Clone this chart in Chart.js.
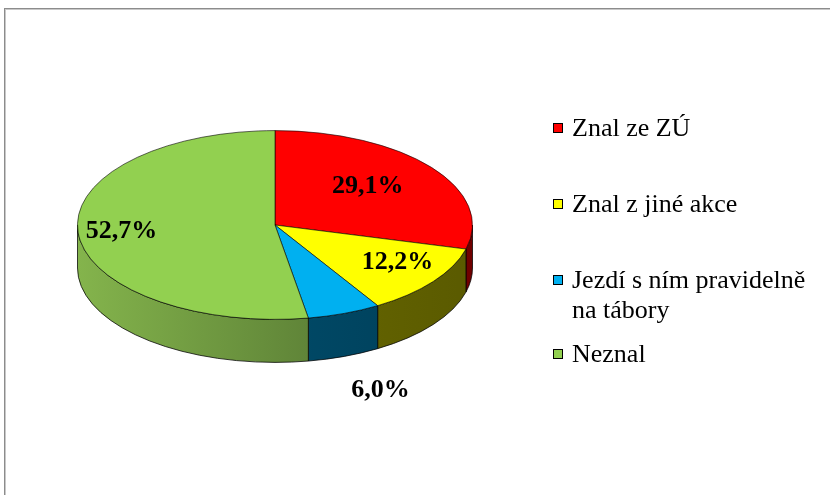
<!DOCTYPE html>
<html>
<head>
<meta charset="utf-8">
<script src="https://cdn.jsdelivr.net/npm/chart.js@4.4.1/dist/chart.umd.min.js"></script>
<style>
  html, body { margin: 0; padding: 0; background: #fff; }
  body { width: 830px; height: 495px; position: relative; overflow: hidden; }
  #frame { position: absolute; left: 4px; top: 8px; width: 900px; height: 600px;
           border-left: 1px solid #8c8c8c; border-top: 1px solid #8c8c8c;
           box-shadow: inset 1px 1px 0 #c8c8c8; }
  #c { position: absolute; left: 0; top: 0; }
  #legend { position: absolute; left: 553px; top: 0; width: 260px;
            font-family: "Liberation Serif", "Times New Roman", serif; font-size: 26px; color: #000; }
  .item { position: absolute; left: 0; width: 260px; line-height: 30px; }
  .sw { position: absolute; left: 0; top: 10px; width: 8px; height: 8px; border: 1px solid #000; }
  .tx { position: absolute; left: 19px; top: 0; width: 240px; }
</style>
</head>
<body>
<div id="frame"></div>
<canvas id="c" width="830" height="495"></canvas>
<div id="legend"></div>
<script>
// ---- data ----
const categories = ['Znal ze ZÚ', 'Znal z jiné akce', 'Jezdí s ním pravidelně na tábory', 'Neznal'];
const values = [29.1, 12.2, 6.0, 52.7];
const valueLabels = ['29,1%', '12,2%', '6,0%', '52,7%'];

// ---- styles ----
const topColors = ['#ff0000', '#ffff00', '#00b0f0', '#92d050'];
const sideLight = ['#a00000', '#767600', '#005576', '#84b44c'];
const sideDark  = ['#700000', '#5a5a00', '#003e58', '#46632a'];
const labelRadius = [0.6, 0.78, 1.45, 0.78];
const labelOutside = [false, false, true, false];
const labelShiftX = [-1, -1, 5, 0];
const labelShiftY = [-4, -7, -6, 0];
const legendTops = [113, 189, 265, 339];

const TILT = 0.478, DEPTH = 43;

const pie3d = {
  id: 'pie3d',
  beforeDatasetsDraw(chart) {
    const ctx = chart.ctx;
    const meta = chart.getDatasetMeta(0);
    const a0 = meta.data[0];
    const cx = a0.x, cy = a0.y, rx = a0.outerRadius, ry = rx * TILT;
    ctx.save();
    meta.data.forEach((arc, i) => {
      const s = arc.startAngle, e = arc.endAngle;
      [0, 2 * Math.PI, -2 * Math.PI].forEach(off => {
        const a = Math.max(s + off, 0), b = Math.min(e + off, Math.PI);
        if (b <= a) return;
        ctx.beginPath();
        ctx.ellipse(cx, cy, rx, ry, 0, a, b, false);
        ctx.ellipse(cx, cy + DEPTH, rx, ry, 0, b, a, true);
        ctx.closePath();
        const g = ctx.createLinearGradient(cx - rx, 0, cx + rx, 0);
        g.addColorStop(0, sideLight[i]);
        g.addColorStop(1, sideDark[i]);
        ctx.fillStyle = g;
        ctx.fill();
        ctx.lineWidth = 1;
        ctx.strokeStyle = 'rgba(0,0,0,0.75)';
        ctx.stroke();
      });
    });
    ctx.restore();
    ctx.save();
    ctx.translate(0, cy);
    ctx.scale(1, TILT);
    ctx.translate(0, -cy);
  },
  afterDatasetsDraw(chart) {
    const ctx = chart.ctx;
    ctx.restore();
    const meta = chart.getDatasetMeta(0);
    ctx.save();
    ctx.font = 'bold 26px "Liberation Serif", "Times New Roman", serif';
    ctx.fillStyle = '#000';
    ctx.textAlign = 'center';
    ctx.textBaseline = 'middle';
    meta.data.forEach((arc, i) => {
      const mid = (arc.startAngle + arc.endAngle) / 2;
      const rx = arc.outerRadius, ry = rx * TILT, f = labelRadius[i];
      const x = arc.x + rx * f * Math.cos(mid) + labelShiftX[i];
      const y = arc.y + ry * f * Math.sin(mid) + (labelOutside[i] ? DEPTH : 0) + labelShiftY[i];
      ctx.fillText(valueLabels[i], x, y);
    });
    ctx.restore();
  }
};

new Chart(document.getElementById('c'), {
  type: 'pie',
  data: {
    labels: categories,
    datasets: [{
      data: values,
      backgroundColor: topColors,
      borderColor: 'rgba(0,0,0,0.8)',
      borderWidth: 1,
      clip: false
    }]
  },
  options: {
    responsive: false,
    animation: false,
    events: [],
    layout: { padding: { left: 77, right: 357, top: 27, bottom: 72 } },
    plugins: { legend: { display: false }, tooltip: { enabled: false } }
  },
  plugins: [pie3d]
});

// HTML legend built from the data arrays
const lg = document.getElementById('legend');
categories.forEach((c, i) => {
  const it = document.createElement('div');
  it.className = 'item';
  it.style.top = legendTops[i] + 'px';
  const sw = document.createElement('div');
  sw.className = 'sw';
  sw.style.background = topColors[i];
  const tx = document.createElement('div');
  tx.className = 'tx';
  tx.textContent = c;
  it.appendChild(sw);
  it.appendChild(tx);
  lg.appendChild(it);
});
</script>
</body>
</html>
